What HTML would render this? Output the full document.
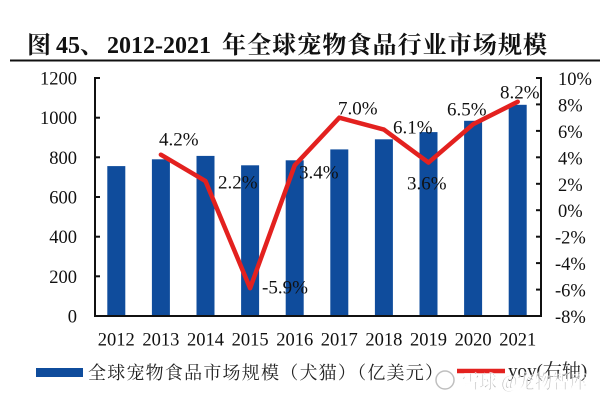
<!DOCTYPE html>
<html>
<head>
<meta charset="utf-8">
<style>
  html,body{margin:0;padding:0;background:#fff;}
  svg{display:block;}
  .num{font-family:"Liberation Serif","Noto Serif CJK SC",serif;fill:#111;}
  .cjk{font-family:"Liberation Serif","Noto Serif CJK SC",serif;}
</style>
</head>
<body>
<svg width="600" height="402" viewBox="0 0 600 402" xmlns="http://www.w3.org/2000/svg">
  <rect x="0" y="0" width="600" height="402" fill="#fff"/>

  <!-- Title -->
  <text x="27" y="53" font-size="24" font-weight="bold" class="cjk" fill="#111">图</text>
  <text x="56" y="53" font-size="24" font-weight="bold" class="cjk" fill="#111">45、</text>
  <text x="107" y="53" font-size="24" font-weight="bold" class="cjk" fill="#111">2012-2021</text>
  <text x="222" y="53" font-size="24" font-weight="bold" class="cjk" fill="#111" textLength="325" lengthAdjust="spacing">年全球宠物食品行业市场规模</text>
  <line x1="10" y1="60.5" x2="600" y2="60.5" stroke="#111" stroke-width="2"/>

  <!-- Bars -->
  <g fill="#0f4c9c">
    <rect x="107.3" y="166.1" width="18" height="149.9"/>
    <rect x="151.9" y="159.3" width="18" height="156.7"/>
    <rect x="196.5" y="155.9" width="18" height="160.1"/>
    <rect x="241.1" y="165.3" width="18" height="150.7"/>
    <rect x="285.7" y="160.3" width="18" height="155.7"/>
    <rect x="330.3" y="149.4" width="18" height="166.6"/>
    <rect x="374.9" y="139.3" width="18" height="176.7"/>
    <rect x="419.5" y="132.1" width="18" height="183.9"/>
    <rect x="464.1" y="120.8" width="18" height="195.2"/>
    <rect x="508.7" y="104.8" width="18" height="211.2"/>
  </g>

  <!-- Axes -->
  <g stroke="#111" stroke-width="2" fill="none">
    <line x1="95" y1="77" x2="95" y2="317"/>
    <line x1="94" y1="316" x2="542" y2="316"/>
    <line x1="541" y1="77" x2="541" y2="317"/>
    <!-- left ticks -->
    <line x1="95" y1="78" x2="100" y2="78"/>
    <line x1="95" y1="117.7" x2="100" y2="117.7"/>
    <line x1="95" y1="157.3" x2="100" y2="157.3"/>
    <line x1="95" y1="197" x2="100" y2="197"/>
    <line x1="95" y1="236.7" x2="100" y2="236.7"/>
    <line x1="95" y1="276.3" x2="100" y2="276.3"/>
    <!-- right ticks -->
    <line x1="536" y1="78" x2="541" y2="78"/>
    <line x1="536" y1="104.4" x2="541" y2="104.4"/>
    <line x1="536" y1="130.9" x2="541" y2="130.9"/>
    <line x1="536" y1="157.3" x2="541" y2="157.3"/>
    <line x1="536" y1="183.8" x2="541" y2="183.8"/>
    <line x1="536" y1="210.2" x2="541" y2="210.2"/>
    <line x1="536" y1="236.7" x2="541" y2="236.7"/>
    <line x1="536" y1="263.1" x2="541" y2="263.1"/>
    <line x1="536" y1="289.6" x2="541" y2="289.6"/>
  </g>

  <!-- Left tick labels -->
  <g class="num" font-size="18.5" text-anchor="end">
    <text x="77" y="84.5">1200</text>
    <text x="77" y="124.2">1000</text>
    <text x="77" y="163.8">800</text>
    <text x="77" y="203.5">600</text>
    <text x="77" y="243.2">400</text>
    <text x="77" y="282.8">200</text>
    <text x="77" y="322.5">0</text>
  </g>

  <!-- Right tick labels -->
  <g class="num" font-size="18.5">
    <text x="558" y="85">10%</text>
    <text x="558" y="111.4">8%</text>
    <text x="558" y="137.9">6%</text>
    <text x="558" y="164.3">4%</text>
    <text x="558" y="190.8">2%</text>
    <text x="558" y="217.2">0%</text>
    <text x="555" y="243.7">-2%</text>
    <text x="555" y="270.1">-4%</text>
    <text x="555" y="296.6">-6%</text>
    <text x="555" y="323">-8%</text>
  </g>

  <!-- Year labels -->
  <g class="num" font-size="18.5" text-anchor="middle">
    <text x="116.3" y="345.5">2012</text>
    <text x="160.9" y="345.5">2013</text>
    <text x="205.5" y="345.5">2014</text>
    <text x="250.1" y="345.5">2015</text>
    <text x="294.7" y="345.5">2016</text>
    <text x="339.3" y="345.5">2017</text>
    <text x="383.9" y="345.5">2018</text>
    <text x="428.5" y="345.5">2019</text>
    <text x="473.1" y="345.5">2020</text>
    <text x="517.7" y="345.5">2021</text>
  </g>

  <!-- Data labels -->
  <g class="num" font-size="19">
    <text x="159" y="145.5">4.2%</text>
    <text x="218" y="188.5">2.2%</text>
    <text x="262" y="293.5">-5.9%</text>
    <text x="299" y="178.5">3.4%</text>
    <text x="338" y="114.5">7.0%</text>
    <text x="393" y="133.5">6.1%</text>
    <text x="407" y="189.5">3.6%</text>
    <text x="447" y="115.5">6.5%</text>
    <text x="500" y="98.5">8.2%</text>
  </g>

  <!-- YoY line -->
  <polyline fill="none" stroke="#e3211f" stroke-width="4.5" stroke-linejoin="round" stroke-linecap="round"
    points="160.9,154.7 205.5,181.1 250.1,288.2 294.7,165.3 339.3,117.7 383.9,129.6 428.5,162.6 473.1,124.3 517.7,101.8"/>

  <!-- Legend -->
  <rect x="36" y="368" width="47" height="9" fill="#0f4c9c"/>
  <text x="88" y="379" font-size="18" class="cjk" fill="#222" textLength="355" lengthAdjust="spacing">全球宠物食品市场规模（犬猫）（亿美元）</text>
  <line x1="457" y1="371" x2="505" y2="371" stroke="#e3211f" stroke-width="4.5"/>
  <text x="508" y="377" font-size="19" class="cjk" fill="#222">yoy(右轴)</text>

  <!-- Watermark -->
  <g opacity="0.75">
    <circle cx="445" cy="380" r="9" fill="none" stroke="#aaa" stroke-width="1.5"/>
    <text x="462" y="388" font-size="19" class="cjk" fill="#9a9a9a" stroke="#fff" stroke-width="0.6" textLength="125" lengthAdjust="spacingAndGlyphs">雪球 @宠物智库</text>
  </g>
</svg>
</body>
</html>
